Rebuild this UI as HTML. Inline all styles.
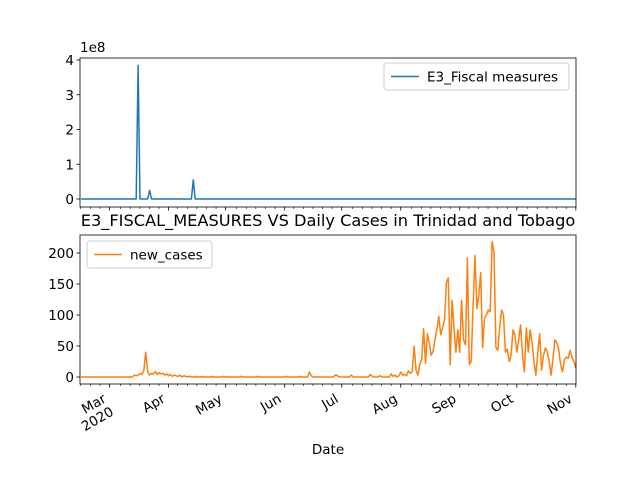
<!DOCTYPE html>
<html><head><meta charset="utf-8"><style>
body{margin:0;background:#fff}
svg{display:block;font-family:"DejaVu Sans","Liberation Sans",sans-serif}
</style></head><body>
<svg id="c" width="640" height="480"></svg>
<script>
// data: day index counted from 2020-02-15
const fiscalDays = [30, 36, 59];
const fiscalValues = [3.85, 0.25, 0.55]; // x1e8
const fiscalTicks = [0, 1, 2, 3, 4];
const caseTicks = [0, 50, 100, 150, 200];
const monthLabels = ["Mar\n2020", "Apr", "May", "Jun", "Jul", "Aug", "Sep", "Oct", "Nov"];
const monthDays = [15, 46, 76, 107, 137, 168, 199, 229, 260];
const cases = [
0,0,0,0,0,0,0,0,0,0,0,0,0,0,0,0,0,0,0,0,0,0,0,0,0,0,0,0,
3,2,3,5,4,10,40,8,3,6,5,9,4,7,5,6,3,5,2,4,1,3,2,1,3,0,2,
1,0,1,0,0,1,0,0,0,1,
0,0,0,0,1,0,0,0,0,0,
1,0,0,0,0,0,0,0,0,1,
0,0,0,0,0,0,0,0,1,0,
0,0,0,0,0,0,0,0,0,0,
0,0,0,1,0,0,0,0,0,0,
1,0,0,0,0,8,2,0,0,0,
0,0,0,0,0,0,0,0,1,4,
1,0,0,0,0,0,0,3,0,0,
0,0,0,0,0,0,0,4,1,0,
0,0,2,0,0,0,0,0,5,1,
3,0,2,8,3,4,2,10,6,8,
50,12,3,20,28,78,22,70,55,35,42,60,78,98,68,80,92,152,160,20,
124,80,40,76,40,124,60,52,192,20,25,116,196,110,132,168,47,95,100,108,
105,218,202,48,43,80,108,100,40,45,25,35,76,68,40,60,84,35,8,79,
40,76,55,25,3,40,70,11,35,47,40,25,3,30,60,55,45,20,8,28,
32,30,43,32,25,14
];

const NS = "http://www.w3.org/2000/svg";
const svg = document.getElementById("c");
function mk(tag, attrs, parent) {
  const e = document.createElementNS(NS, tag);
  for (const k in attrs) e.setAttribute(k, attrs[k]);
  (parent || svg).appendChild(e);
  return e;
}
const L = 80, R = 576;
const xDay = d => L + (d + 0.55) * 1.903;
const top1 = {t: 58, b: 207, y: v => 199 - v * 34.75};
const top2 = {t: 235, b: 384, y: v => 377 - v * 0.62};

function xTicks(ax, labels) {
  for (let m = 0; m < monthDays.length; m++) {
    const x = xDay(monthDays[m]);
    const t = mk("line", {x1: x, x2: x, y1: ax.b, y2: ax.b + 3.5, stroke: "#000", "stroke-width": 0.8});
    
    
    for (let k = 1; k <= 5; k++) {
      const mx = x - k * 9.6;
      if (mx < L) break;
      if (m > 0 && mx <= xDay(monthDays[m - 1]) + 3) break;
      const mt = mk("line", {x1: mx, x2: mx, y1: ax.b, y2: ax.b + 2, stroke: "#000", "stroke-width": 0.6});
      
      
    }
    if (labels) {
      const lines = monthLabels[m].split("\n");
      const ax0 = x - 5, ay0 = ax.b + 18;
      const g = mk("text", {x: ax0, y: ay0, "text-anchor": "end", "font-size": 13.5, fill: "#000",
        transform: `rotate(-30 ${ax0} ${ay0 - 5})`});
      
      
      lines.forEach((s, i) => {
        const ts = mk("tspan", {x: ax0, dy: i ? 15 : 0}, g);
        ts.textContent = s;
      });
    }
  }
}
function yTicks(ax, ticks) {
  ticks.forEach(v => {
    const y = ax.y(v);
    mk("line", {x1: L - 3.5, x2: L, y1: y, y2: y, stroke: "#000", "stroke-width": 0.8});
    const t = mk("text", {x: L - 6, y: y + 5, "text-anchor": "end", "font-size": 13.5, fill: "#000"});
    
    
    t.textContent = v;
  });
}
function frame(ax, name) {
  const r = mk("rect", {x: L, y: ax.t, width: R - L, height: ax.b - ax.t, fill: "none", stroke: "#000", "stroke-width": 0.8});
  
  
}

// top series
let pts = [];
for (let d = 0; d <= 260; d++) {
  const i = fiscalDays.indexOf(d);
  pts.push(xDay(d).toFixed(1) + "," + top1.y(i >= 0 ? fiscalValues[i] : 0).toFixed(1));
}
const l1 = mk("polyline", {points: pts.join(" "), fill: "none", stroke: "#1f77b4", "stroke-width": 1.5, "stroke-linejoin": "round"});


frame(top1, 'top-axes');
yTicks(top1, fiscalTicks);
xTicks(top1, false);
const e8 = mk("text", {x: 80, y: 52, "font-size": 13.5});


e8.textContent = "1e8";

// bottom series
pts = cases.map((v, d) => xDay(d).toFixed(1) + "," + top2.y(v).toFixed(1));
const l2 = mk("polyline", {points: pts.join(" "), fill: "none", stroke: "#ff7f0e", "stroke-width": 1.5, "stroke-linejoin": "round"});


frame(top2, 'bottom-axes');
yTicks(top2, caseTicks);
xTicks(top2, true);

const title = mk("text", {x: 328, y: 226, "text-anchor": "middle", "font-size": 16.2});


title.textContent = "E3_FISCAL_MEASURES VS Daily Cases in Trinidad and Tobago";
const xl = mk("text", {x: 328, y: 454, "text-anchor": "middle", "font-size": 13.5});


xl.textContent = "Date";

function legend(x, y, w, color, label, name) {
  const g = mk("g", {});
  
  
  mk("rect", {x: x, y: y, width: w, height: 27, rx: 3, fill: "#fff", "fill-opacity": 0.8, stroke: "#ccc", "stroke-width": 1}, g);
  mk("line", {x1: x + 7, x2: x + 35, y1: y + 13.5, y2: y + 13.5, stroke: color, "stroke-width": 1.5}, g);
  const t = mk("text", {x: x + 43, y: y + 18.5, "font-size": 13.5}, g);
  t.textContent = label;
}
legend(384, 63, 185, "#1f77b4", "E3_Fiscal measures", "legend-fiscal");
legend(87, 241, 125, "#ff7f0e", "new_cases", "legend-new-cases");
</script>
</body></html>
